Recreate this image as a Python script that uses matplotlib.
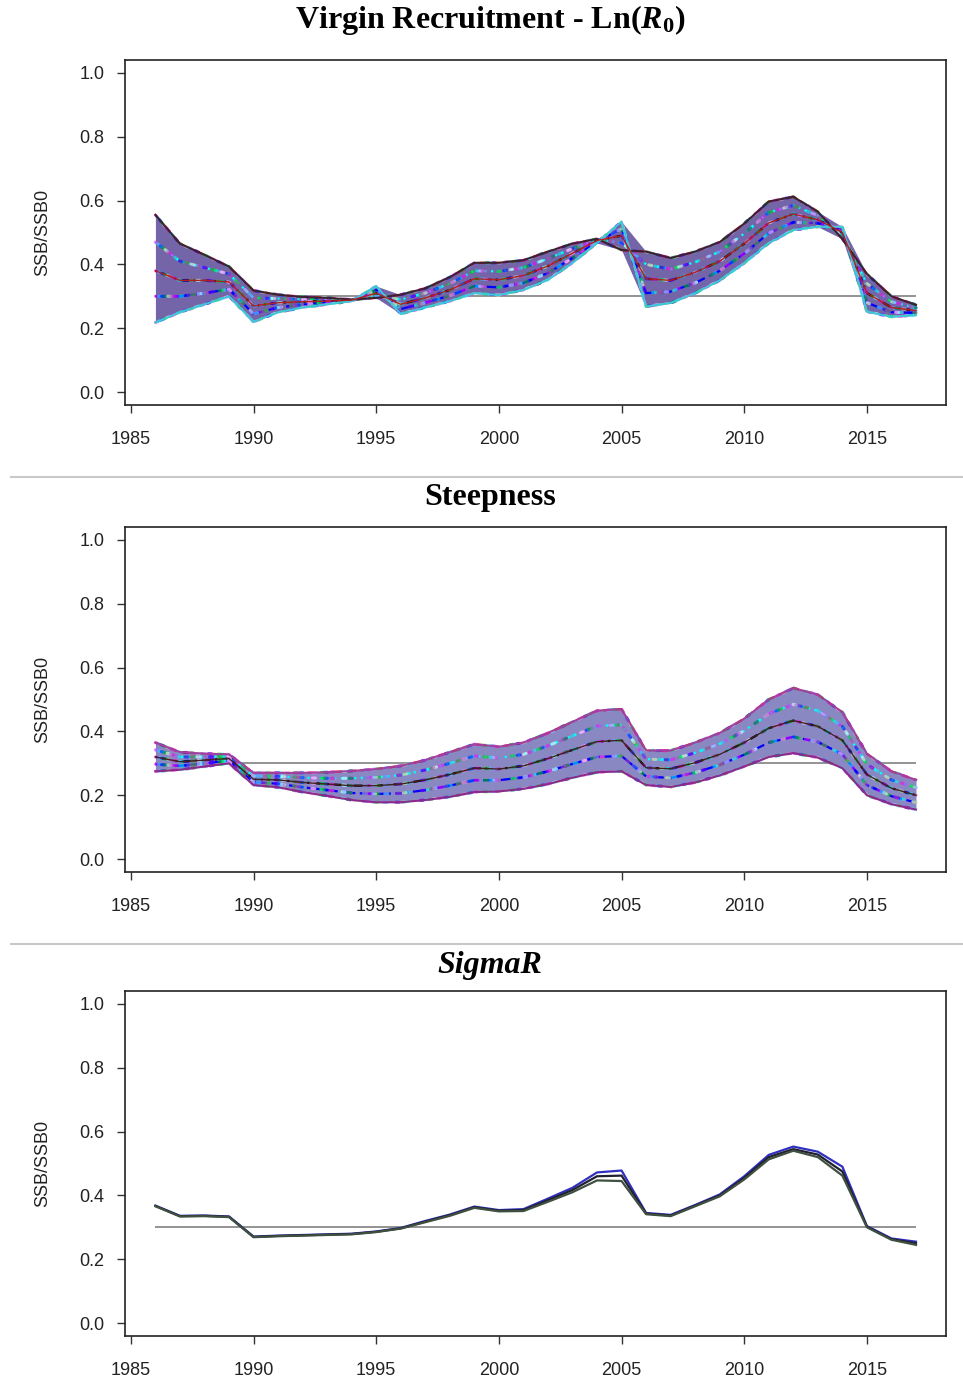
import numpy as np
import matplotlib
matplotlib.use("Agg")
import matplotlib.pyplot as plt
from matplotlib.lines import Line2D

plt.rcParams["font.family"] = ["Liberation Sans", "DejaVu Sans"]
plt.rcParams["mathtext.fontset"] = "custom"
plt.rcParams["mathtext.rm"] = "Liberation Serif:bold"
plt.rcParams["mathtext.it"] = "Liberation Serif:italic:bold"

# --- data ---
years = list(range(1986, 2018))
ref_level = 0.3

# Ln(R0) sensitivity runs
r0_high = [0.555, 0.465, 0.430, 0.393, 0.318, 0.305, 0.298, 0.295, 0.290, 0.295, 0.305, 0.325,
           0.360, 0.405, 0.405, 0.413, 0.440, 0.465, 0.480, 0.445, 0.440, 0.420, 0.440, 0.470,
           0.528, 0.597, 0.612, 0.565, 0.480, 0.370, 0.300, 0.273]
r0_qhi = [0.470, 0.410, 0.390, 0.370, 0.295, 0.293, 0.290, 0.290, 0.289, 0.302, 0.290, 0.310,
          0.340, 0.380, 0.378, 0.390, 0.418, 0.450, 0.478, 0.468, 0.400, 0.385, 0.407, 0.440,
          0.497, 0.563, 0.585, 0.553, 0.490, 0.340, 0.283, 0.264]
r0_mid = [0.380, 0.350, 0.350, 0.345, 0.270, 0.280, 0.283, 0.285, 0.288, 0.310, 0.275, 0.295,
          0.320, 0.355, 0.352, 0.365, 0.395, 0.435, 0.475, 0.490, 0.355, 0.350, 0.375, 0.410,
          0.465, 0.530, 0.558, 0.540, 0.500, 0.310, 0.265, 0.255]
r0_qlo = [0.300, 0.300, 0.310, 0.322, 0.245, 0.265, 0.274, 0.280, 0.286, 0.320, 0.260, 0.280,
          0.302, 0.332, 0.328, 0.342, 0.373, 0.420, 0.471, 0.512, 0.310, 0.315, 0.342, 0.380,
          0.434, 0.498, 0.532, 0.529, 0.509, 0.280, 0.250, 0.248]
r0_low = [0.218, 0.250, 0.275, 0.300, 0.220, 0.250, 0.265, 0.275, 0.285, 0.332, 0.245, 0.265,
          0.285, 0.310, 0.304, 0.320, 0.352, 0.405, 0.467, 0.534, 0.268, 0.279, 0.310, 0.350,
          0.404, 0.467, 0.508, 0.518, 0.518, 0.252, 0.236, 0.241]

# Steepness sensitivity runs
h_top = [0.365, 0.335, 0.330, 0.328, 0.270, 0.270, 0.270, 0.272, 0.276, 0.282, 0.292, 0.310,
         0.335, 0.360, 0.352, 0.365, 0.395, 0.430, 0.465, 0.470, 0.340, 0.340, 0.365, 0.395,
         0.440, 0.500, 0.536, 0.515, 0.460, 0.330, 0.275, 0.248]
h_qhi = [0.342, 0.320, 0.320, 0.322, 0.260, 0.259, 0.255, 0.253, 0.253, 0.256, 0.263, 0.279,
         0.300, 0.323, 0.317, 0.328, 0.355, 0.386, 0.417, 0.421, 0.313, 0.311, 0.333, 0.361,
         0.402, 0.455, 0.485, 0.465, 0.416, 0.297, 0.248, 0.224]
h_mid = [0.320, 0.305, 0.310, 0.315, 0.250, 0.248, 0.240, 0.235, 0.230, 0.230, 0.235, 0.248,
         0.265, 0.285, 0.282, 0.292, 0.315, 0.342, 0.368, 0.372, 0.286, 0.283, 0.302, 0.328,
         0.365, 0.410, 0.434, 0.416, 0.372, 0.265, 0.222, 0.200]
h_qlo = [0.297, 0.292, 0.300, 0.308, 0.241, 0.236, 0.225, 0.216, 0.207, 0.204, 0.206, 0.216,
         0.230, 0.247, 0.247, 0.256, 0.275, 0.298, 0.320, 0.323, 0.259, 0.254, 0.271, 0.295,
         0.327, 0.365, 0.383, 0.367, 0.328, 0.232, 0.197, 0.177]
h_bot = [0.275, 0.280, 0.290, 0.300, 0.232, 0.225, 0.210, 0.198, 0.185, 0.178, 0.178, 0.185,
         0.195, 0.210, 0.212, 0.220, 0.235, 0.255, 0.272, 0.275, 0.232, 0.226, 0.240, 0.262,
         0.290, 0.320, 0.332, 0.318, 0.285, 0.200, 0.172, 0.155]

# SigmaR sensitivity runs
sig_hi = [0.368, 0.336, 0.337, 0.334, 0.271, 0.274, 0.276, 0.278, 0.280, 0.287, 0.298, 0.320,
          0.340, 0.365, 0.354, 0.357, 0.390, 0.424, 0.472, 0.478, 0.345, 0.339, 0.370, 0.403,
          0.460, 0.527, 0.553, 0.537, 0.490, 0.304, 0.265, 0.255]
sig_base = [0.367, 0.335, 0.336, 0.333, 0.270, 0.273, 0.275, 0.277, 0.279, 0.286, 0.297, 0.318,
            0.338, 0.363, 0.352, 0.354, 0.385, 0.417, 0.460, 0.462, 0.343, 0.337, 0.368, 0.400,
            0.455, 0.520, 0.545, 0.528, 0.475, 0.302, 0.263, 0.250]
sig_lo = [0.366, 0.334, 0.335, 0.332, 0.269, 0.272, 0.274, 0.276, 0.278, 0.285, 0.296, 0.316,
          0.336, 0.361, 0.350, 0.351, 0.380, 0.410, 0.447, 0.445, 0.341, 0.335, 0.366, 0.397,
          0.450, 0.513, 0.540, 0.520, 0.462, 0.300, 0.261, 0.245]

titles = [r"Virgin Recruitment - Ln($\mathit{R_0}$)", "Steepness", "SigmaR"]
ylab = "SSB/SSB0"

# R-like palette and line types
r_cols = ["black", "red", "#00CD00", "blue", "cyan", "magenta", "#BEBEBE"]
r_dash = [(4, 2), (1, 2), (1, 2, 4, 2), (6, 2), (2, 1, 5, 1)]
speck_cols = ["magenta", "cyan", "blue", "#00CD00", "white", "#c040c0"]

W, H = 963, 1383
fig = plt.figure(figsize=(W / 100, H / 100), dpi=100)

tops = [60.2, 527.2, 991.2]
ph = 344.6
axes = []
for t in tops:
    ax = fig.add_axes([125 / W, 1 - (t + ph) / H, 821.4 / W, ph / H])
    axes.append(ax)


def draw_band(ax, runs, fill_col, edge_hi, edge_lo):
    arr = np.array(runs)
    ax.fill_between(years, arr.min(axis=0), arr.max(axis=0), color=fill_col, lw=0, zorder=2)
    for i, r in enumerate(runs):
        c = r_cols[(i * 3 + 1) % len(r_cols)]
        ax.plot(years, r, color=c, lw=1.6, dashes=r_dash[i % len(r_dash)], zorder=3)
        # speckled overlays to mimic the dense dashed runs
        for k, sc in enumerate(speck_cols):
            ax.plot(years, r, color=sc, lw=2.2, alpha=0.55,
                    dashes=(1.0, 5.0), dash_capstyle="round", zorder=3,
                    gapcolor=None)[0].set_dashes([0, k * 1.0, 1.0, 5.0])
    ax.plot(years, runs[0], color=edge_hi, lw=1.5, zorder=4)
    ax.plot(years, runs[-1], color=edge_lo, lw=1.5, zorder=4)


draw_band(axes[0], [r0_high, r0_qhi, r0_mid, r0_qlo, r0_low], "#7465a8", "#3a2232", "#3cc8d8")
axes[0].plot(years, r0_mid, color="#b02020", lw=1.0, zorder=4)
draw_band(axes[1], [h_top, h_qhi, h_mid, h_qlo, h_bot], "#8a88c2", "#a040a0", "#8a2a8a")
axes[1].plot(years, h_mid, color="#402020", lw=1.0, zorder=4)

sig_runs = [sig_hi, sig_base, sig_lo]
sig_cols = ["#3030c0", "#202030", "#405040"]
for r, c in zip(sig_runs, sig_cols):
    axes[2].plot(years, r, color=c, lw=1.6, zorder=3)

for ax, title, t in zip(axes, titles, tops):
    ax.hlines(ref_level, years[0], years[-1], color="#808080", lw=1.2, zorder=1)
    ax.set_xlim(1984.76, 2018.24)
    ax.set_ylim(-0.04, 1.04)
    ax.set_xticks([1985, 1990, 1995, 2000, 2005, 2010, 2015])
    ax.set_yticks([0.0, 0.2, 0.4, 0.6, 0.8, 1.0])
    ax.set_yticklabels(["0.0", "0.2", "0.4", "0.6", "0.8", "1.0"])
    ax.tick_params(axis="both", direction="out", length=6, width=1, labelsize=13,
                   color="#333333", labelcolor="#222222")
    ax.tick_params(axis="x", pad=13)
    ax.tick_params(axis="y", pad=9)
    for s in ax.spines.values():
        s.set_linewidth(1.2)
        s.set_color("#222222")
    ax.text(-0.0998, 0.5, ylab, transform=ax.transAxes, rotation=90, ha="center",
            va="center", fontsize=13, color="#222222")

# panel titles
title_y = [20, 497, 966]
fig.text(490 / W, 1 - title_y[0] / H, titles[0], ha="center", va="center", fontsize=23,
         family="Liberation Serif", weight="bold")
fig.text(490 / W, 1 - title_y[1] / H, titles[1], ha="center", va="center", fontsize=23,
         family="Liberation Serif", weight="bold")
fig.text(490 / W, 1 - title_y[2] / H, titles[2], ha="center", va="center", fontsize=23,
         family="Liberation Serif", weight="bold", style="italic")

# thin separators between the panels
for sy in [477, 944]:
    fig.add_artist(Line2D([11 / W, 1], [1 - sy / H, 1 - sy / H], transform=fig.transFigure,
                          color="#c8c8c8", lw=1.5))

fig.savefig("out.png", dpi=100, facecolor="white")
